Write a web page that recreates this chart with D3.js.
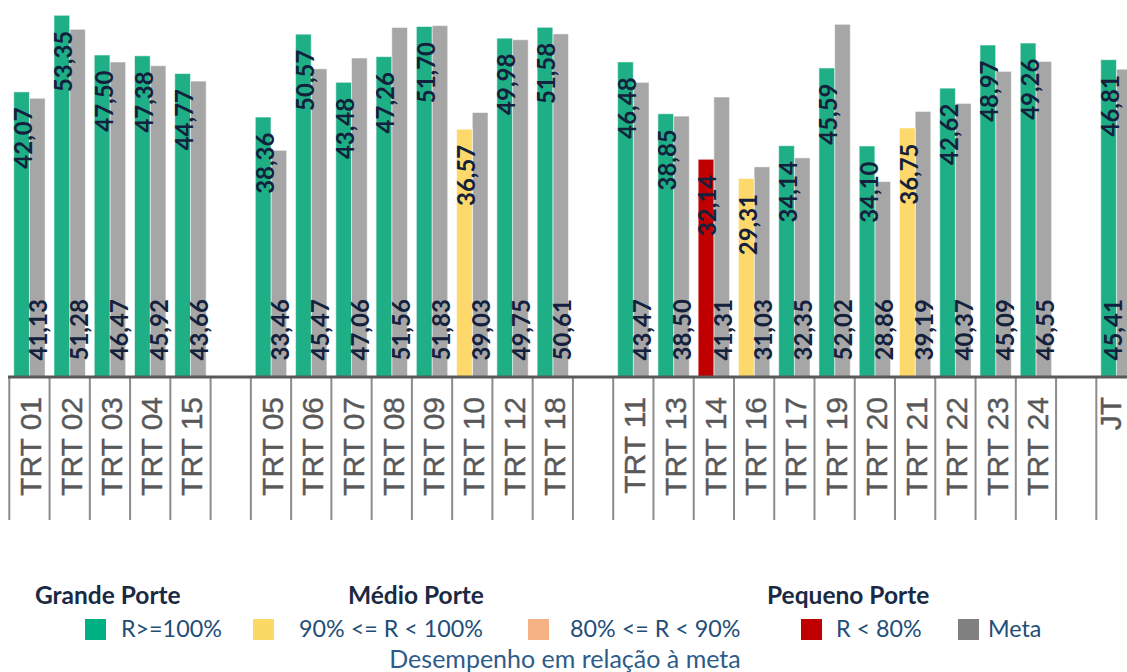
<!DOCTYPE html>
<html>
<head>
<meta charset="utf-8">
<script src="https://cdn.jsdelivr.net/npm/d3@7"></script>
<style>
  html, body { margin: 0; padding: 0; background: #fff; }
  svg { display: block; }
</style>
</head>
<body>
<div id="chart"></div>
<script>
// categories, null = empty slot between court groups
const categories = ["TRT 01", "TRT 02", "TRT 03", "TRT 04", "TRT 15", null,
    "TRT 05", "TRT 06", "TRT 07", "TRT 08", "TRT 09", "TRT 10", "TRT 12", "TRT 18", null,
    "TRT 11", "TRT 13", "TRT 14", "TRT 16", "TRT 17", "TRT 19", "TRT 20", "TRT 21", "TRT 22", "TRT 23", "TRT 24", null,
    "JT"];
const results = [42.07, 53.35, 47.50, 47.38, 44.77, null,
    38.36, 50.57, 43.48, 47.26, 51.70, 36.57, 49.98, 51.58, null,
    46.48, 38.85, 32.14, 29.31, 34.14, 45.59, 34.10, 36.75, 42.62, 48.97, 49.26, null,
    46.81];
const metas = [41.13, 51.28, 46.47, 45.92, 43.66, null,
    33.46, 45.47, 47.06, 51.56, 51.83, 39.03, 49.75, 50.61, null,
    43.47, 38.50, 41.31, 31.03, 32.35, 52.02, 28.86, 39.19, 40.37, 45.09, 46.55, null,
    45.41];
// performance class of each result bar
const status = ["ok", "ok", "ok", "ok", "ok", null,
    "ok", "ok", "ok", "ok", "ok", "r90", "ok", "ok", null,
    "ok", "ok", "low", "r90", "ok", "ok", "ok", "r90", "ok", "ok", "ok", null,
    "ok"];

const legendGroups = ["Grande Porte", "Médio Porte", "Pequeno Porte"];
const legendItems = [
    { key: "ok", label: "R>=100%" },
    { key: "r90", label: "90% <= R < 100%" },
    { key: "r80", label: "80% <= R < 90%" },
    { key: "low", label: "R < 80%" },
    { key: "meta", label: "Meta" }
];
const legendTitle = "Desempenho em relação à meta";

const barColor = { ok: "#1FAF87", r90: "#FCD96A", r80: "#F4B183", low: "#C00000", meta: "#A6A6A6" };
const legendColor = { ok: "#00B084", r90: "#FAD964", r80: "#F4B183", low: "#C00000", meta: "#808080" };

const width = 1127, height = 672;
const fmt = v => v.toFixed(2).replace(".", ",");
// keep rotated labels from running off the right edge
const fit = (cx, half) => Math.min(cx, width - half);

const svg = d3.select("#chart").append("svg")
    .attr("width", width)
    .attr("height", height);

// scales
const idx = d3.range(categories.length);
const x = d3.scaleBand()
    .domain(idx)
    .range([9.3, 9.3 + 40.26 * categories.length])
    .paddingInner(0.22)
    .paddingOuter(0.11);
const xInner = d3.scaleBand()
    .domain(["res", "meta"])
    .range([0, x.bandwidth()]);
const y = d3.scaleLinear().domain([0, 55.6]).range([377.5, 0]);

const filled = idx.filter(i => categories[i] !== null);

// bars
const g = svg.append("g");
const groups = g.selectAll("g.cat")
    .data(filled)
    .enter().append("g")
    .attr("class", "cat");

groups.append("rect")
    .attr("x", i => x(i) + xInner("meta"))
    .attr("y", i => y(metas[i]))
    .attr("width", xInner.bandwidth())
    .attr("height", i => y(0) - y(metas[i]))
    .attr("fill", barColor.meta)
    .attr("stroke", "rgba(255,255,255,0.55)")
    .attr("stroke-width", 1);

groups.append("rect")
    .attr("x", i => x(i) + xInner("res"))
    .attr("y", i => y(results[i]))
    .attr("width", xInner.bandwidth())
    .attr("height", i => y(0) - y(results[i]))
    .attr("fill", i => barColor[status[i]])
    .attr("stroke", "rgba(255,255,255,0.55)")
    .attr("stroke-width", 1);

// value labels
groups.append("text")
    .attr("transform", i => "translate(" + fit(x(i) + xInner("res") + xInner.bandwidth() / 2 + 1, 15) + "," + (y(results[i]) + 15.5) + ") rotate(-90)")
    .attr("text-anchor", "end")
    .attr("dominant-baseline", "central")
    .style("font-family", "Lato, sans-serif")
    .style("font-weight", "bold")
    .style("font-size", "24px")
    .style("fill", "#14213D")
    .text(i => fmt(results[i]));

groups.append("text")
    .attr("transform", i => "translate(" + fit(x(i) + xInner("meta") + xInner.bandwidth() / 2 + 0.5, 15) + "," + (y(0) - 17) + ") rotate(-90)")
    .attr("text-anchor", "start")
    .attr("dominant-baseline", "central")
    .style("font-family", "Lato, sans-serif")
    .style("font-weight", "bold")
    .style("font-size", "24px")
    .style("fill", "#14213D")
    .text(i => fmt(metas[i]));

// category axis: divider lines and rotated labels
const axisG = svg.append("g");
const edges = idx.map(i => x(i) - x.step() * 0.11).concat([x.range()[1]]);
axisG.selectAll("line.div")
    .data(edges)
    .enter().append("line")
    .attr("class", "div")
    .attr("x1", d => d).attr("x2", d => d)
    .attr("y1", 377).attr("y2", 520)
    .attr("stroke", "#8C8C8C")
    .attr("stroke-width", 2);

axisG.append("line")
    .attr("x1", 8).attr("x2", width)
    .attr("y1", 377).attr("y2", 377)
    .attr("stroke", "#595959")
    .attr("stroke-width", 3);

axisG.selectAll("text")
    .data(filled)
    .enter().append("text")
    .attr("transform", i => "translate(" + fit(x(i) + x.bandwidth() / 2 + 1.5, 17) + ",397) rotate(-90)")
    .attr("text-anchor", "end")
    .attr("dominant-baseline", "central")
    .style("font-family", "'Liberation Sans', Arial, sans-serif")
    .style("font-size", "30px")
    .style("fill", "#595959")
    .style("stroke", "#595959")
    .style("stroke-width", 0.4)
    .text(i => categories[i]);

// legend
const lg = svg.append("g")
    .style("font-family", "Lato, sans-serif");
const groupX = [35, 348, 767];
lg.selectAll("text.grp")
    .data(legendGroups)
    .enter().append("text")
    .attr("class", "grp")
    .attr("x", (d, i) => groupX[i])
    .attr("y", 604)
    .style("font-weight", "bold")
    .style("font-size", "24.5px")
    .style("fill", "#1A2A44")
    .text(d => d);

const itemX = [85, 253, 528, 801, 958];
const textGap = [36, 46, 42, 35, 30];
const item = lg.selectAll("g.item")
    .data(legendItems)
    .enter().append("g")
    .attr("class", "item")
    .attr("transform", (d, i) => "translate(" + itemX[i] + ",619)");
item.append("rect")
    .attr("width", 21).attr("height", 21)
    .attr("fill", d => legendColor[d.key]);
item.append("text")
    .attr("x", (d, i) => textGap[i])
    .attr("y", 18)
    .style("font-size", "23.3px")
    .style("fill", "#1F4E79")
    .text(d => d.label);

lg.append("text")
    .attr("x", 565)
    .attr("y", 668)
    .attr("text-anchor", "middle")
    .style("font-size", "25px")
    .style("fill", "#2E5C8A")
    .text(legendTitle);
</script>
</body>
</html>
